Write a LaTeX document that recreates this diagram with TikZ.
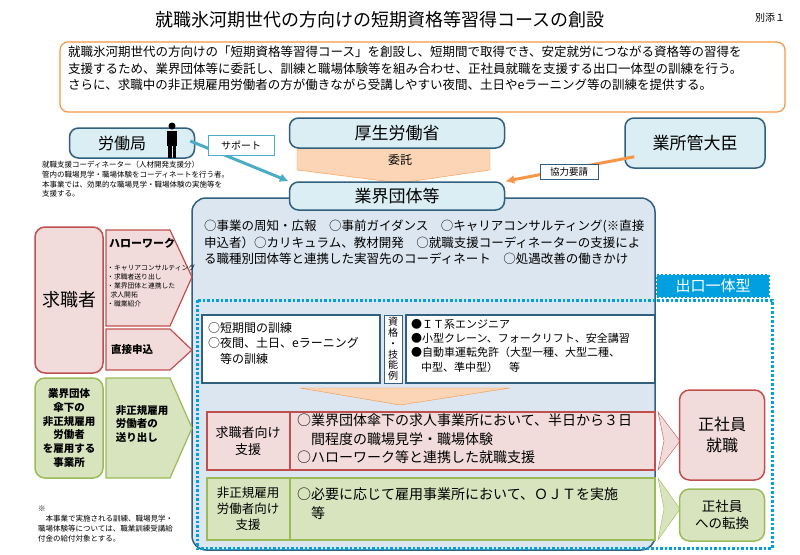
\documentclass[tikz,border=0pt]{standalone}
\usepackage{fontspec}
\setmainfont{Noto Sans CJK JP}
\usetikzlibrary{positioning,arrows.meta}
\definecolor{boxblue}{HTML}{DBEEF4}
\definecolor{panelblue}{HTML}{DCE6F0}
\definecolor{edgeblue}{HTML}{31607F}
\definecolor{tealline}{HTML}{4BACC6}
\definecolor{cyanline}{HTML}{00A0E0}
\definecolor{orangeline}{HTML}{F79646}
\definecolor{orangefill}{HTML}{FBD5B5}
\definecolor{pinkfill}{HTML}{F2DCDB}
\definecolor{redline}{HTML}{C0504D}
\definecolor{greenfill}{HTML}{D7E4BD}
\definecolor{greenline}{HTML}{9BBB59}
\newcommand{\fsz}[1]{\fontsize{#1}{\dimexpr #1pt*13/10\relax}\selectfont}
\tikzset{
  office/.style={draw=edgeblue, fill=boxblue, line width=1.5pt, rounded corners=9pt, inner sep=0pt},
  tag/.style={draw=edgeblue, fill=white, line width=1pt, inner sep=2pt},
  pinkbox/.style={draw=redline, fill=pinkfill, line width=1.5pt, rounded corners=10pt},
  greenbox/.style={draw=greenline, fill=greenfill, line width=1.5pt, rounded corners=10pt},
  note/.style={align=left, anchor=north west, inner sep=0pt},
}
\begin{document}
\begin{tikzpicture}[x=1pt, y=-1pt]
\useasboundingbox (0,0) rectangle (800,554);

% title
\node[font=\fsz{18}] (title) at (380,20) {就職氷河期世代の方向けの短期資格等習得コースの創設};
\node[font=\fsz{10}] (annex) at (770,18) {別添１};

% outline box
\draw[orangeline, line width=1.2pt, rounded corners=8pt, fill=white] (60,42) rectangle (785,112);
\node[note, font=\fsz{12.5}] (outline) at (68,46) {就職氷河期世代の方向けの「短期資格等習得コース」を創設し、短期間で取得でき、安定就労につながる資格等の習得を\\
支援するため、業界団体等に委託し、訓練と職場体験等を組み合わせ、正社員就職を支援する出口一体型の訓練を行う。\\
さらに、求職中の非正規雇用労働者の方が働きながら受講しやすい夜間、土日やeラーニング等の訓練を提供する。};

% big panel and dotted frame
\draw[edgeblue, fill=panelblue, line width=1.5pt, rounded corners=14pt] (192,198) rectangle (655,550);
\draw[cyanline, line width=3pt, dash pattern=on 2.5pt off 2pt] (197,300) rectangle (772,548);
\node[fill=cyanline, draw=cyanline, line width=2pt, dash pattern=on 2pt off 2pt, minimum width=112pt, minimum height=22pt, text=white, font=\fsz{15}] (exit) at (713,286) {出口一体型};

% offices
\node[office, minimum width=125pt, minimum height=30pt, font=\fsz{16}] (bureau) at (132,143) {\hspace*{-20pt}労働局};
\fill (172,126) circle (3.5pt);
\fill (167,131) rectangle (177,146);
\fill (168,146) rectangle (171.5,158);
\fill (172.5,146) rectangle (176,158);
\node[note, font=\fsz{7.5}] (coord) at (42,161) {就職支援コーディネーター（人材開発支援分）\\
管内の職場見学・職場体験をコーディネートを行う者。\\
本事業では、効果的な職場見学・職場体験の実施等を\\
支援する。};

\fill[orangefill, draw=orangeline] (297,148) -- (490,148) -- (490,170) -- (400,183) -- (297,170) -- cycle;
\node[font=\fsz{12}] (entrust) at (400,160) {委託};
\node[office, minimum width=215pt, minimum height=30pt, font=\fsz{17}] (ministry) at (397,133) {厚生労働省};
\node[office, minimum width=140pt, minimum height=50pt, font=\fsz{17}] (minister) at (695,143) {業所管大臣};
\node[office, minimum width=215pt, minimum height=28pt, font=\fsz{17}] (assoc) at (397,196) {業界団体等};

\draw[tealline, line width=3pt, -{Latex[length=9pt,width=9pt]}] (bureau.east) ++(-5,-2) coordinate (s1) -- (assoc.north west);
\node[tag, draw=tealline, minimum width=66pt, minimum height=20pt, font=\fsz{10}] (support) at (241,145) {サポート};
\draw[orangeline, line width=3pt, -{Latex[length=9pt,width=9pt]}] (minister.south west) ++(10,-12) -- (assoc.north east);
\node[tag, minimum width=58pt, minimum height=15pt, font=\fsz{9.5}] (request) at (569,172) {協力要請};

% panel text
\node[note, font=\fsz{12.5}] (tasks) at (204,220) {○事業の周知・広報　○事前ガイダンス　○キャリアコンサルティング(※直接\\
申込者）○カリキュラム、教材開発　○就職支援コーディネーターの支援によ\\
る職種別団体等と連携した実習先のコーディネート　○処遇改善の働きかけ};

% training boxes
\draw[edgeblue, fill=white, line width=2.5pt] (202,315) rectangle (380,383);
\node[note, font=\fsz{12}] (train) at (208,322) {○短期間の訓練\\○夜間、土日、eラーニング\\\hspace*{1em}等の訓練};
\draw[edgeblue, fill=white, line width=1pt] (384,315) rectangle (402,383);
\node[align=center, inner sep=0pt, font=\fontsize{10}{10.8}\selectfont] (quallabel) at (393,349) {資\\格\\・\\技\\能\\例};
\draw[edgeblue, fill=white, line width=1.5pt] (406,315) rectangle (655,383);
\node[note, font=\fsz{11}] (quals) at (411,319) {●ＩＴ系エンジニア\\●小型クレーン、フォークリフト、安全講習\\●自動車運転免許（大型一種、大型二種、\\\hspace*{0.9em}中型、準中型）　等};
\fill[orangefill, draw=orangeline] (300,388) -- (510,388) -- (400,405) -- cycle;

% support rows
\draw[redline, fill=pinkfill, line width=1.2pt] (207,412) rectangle (655,470);
\draw[redline, line width=2pt] (207,412) rectangle (290,470);
\node[align=center, font=\fsz{13}] (jobseekersup) at (248,441) {求職者向け\\支援};
\node[note, font=\fsz{14}] (jobseekertxt) at (297,414) {○業界団体傘下の求人事業所において、半日から３日\\\hspace*{1em}間程度の職場見学・職場体験\\○ハローワーク等と連携した就職支援};
\draw[greenline, fill=greenfill, line width=1.2pt] (207,478) rectangle (655,540);
\draw[greenline, line width=1.2pt] (290,478) -- (290,540);
\node[align=center, font=\fsz{12.5}] (nonregsup) at (248,509) {非正規雇用\\労働者向け\\支援};
\node[note, font=\fsz{14}] (nonregtxt) at (297,488) {○必要に応じて雇用事業所において、ＯＪＴを実施\\\hspace*{1em}等};

% chevrons to outcomes
\fill[pinkfill, draw=redline] (658,412) -- (680,441) -- (658,470) -- (664,441) -- cycle;
\fill[greenfill, draw=greenline] (658,478) -- (680,509) -- (658,540) -- (664,509) -- cycle;
\node[pinkbox, minimum width=85pt, minimum height=90pt, align=center, font=\fsz{16}] (hired) at (722,435) {正社員\\就職};
\node[greenbox, minimum width=85pt, minimum height=52pt, align=center, font=\fsz{13.5}] (convert) at (722,515) {正社員\\への転換};

% left side
\node[pinkbox, minimum width=68pt, minimum height=146pt, font=\fsz{18}] (seeker) at (69,300) {求職者};
\fill[pinkfill, draw=redline, line width=1.2pt] (106,230) -- (170,230) -- (192,277) -- (170,326) -- (106,326) -- cycle;
\node[note, font=\fsz{11}\bfseries] (hw) at (109,238) {ハローワーク};
\node[note, font=\fsz{6.8}] (hwlist) at (107,265) {・キャリアコンサルティング\\・求職者送り出し\\・業界団体と連携した\\\hspace*{0.5em}求人開拓\\・職業紹介};
\fill[pinkfill, draw=redline, line width=1.2pt] (106,329) -- (170,329) -- (192,350) -- (170,370) -- (106,370) -- cycle;
\node[font=\fsz{10.5}\bfseries] (direct) at (132,350) {直接申込};
\node[greenbox, minimum width=68pt, minimum height=100pt, align=center, font=\fsz{10.5}\bfseries] (employer) at (69,428) {業界団体\\傘下の\\非正規雇用\\労働者\\を雇用する\\事業所};
\fill[greenfill, draw=greenline, line width=1.2pt] (106,378) -- (170,378) -- (192,428) -- (170,478) -- (106,478) -- cycle;
\node[align=left, font=\fsz{10.5}\bfseries] (sendout) at (142,424) {非正規雇用\\労働者の\\送り出し};
\node[note, font=\fsz{7.5}] (footnote) at (38,506) {※\\\hspace*{1em}本事業で実施される訓練、職場見学・\\職場体験等については、職業訓練受講給\\付金の給付対象とする。};
\end{tikzpicture}
\end{document}
